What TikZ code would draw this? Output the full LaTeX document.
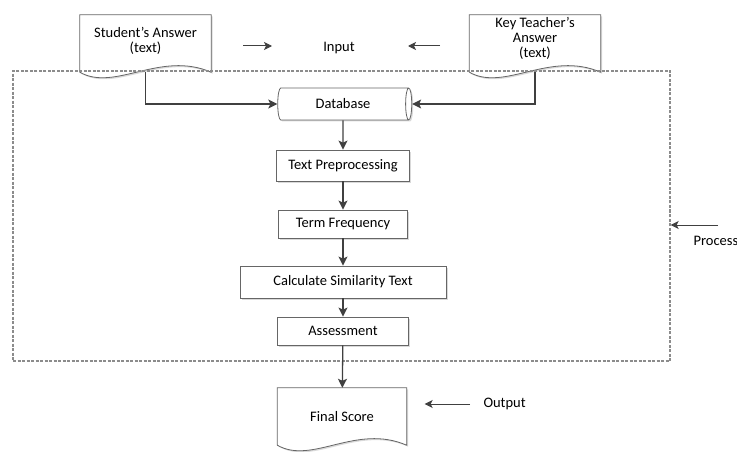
\documentclass[tikz,border=0pt]{standalone}
\usepackage{fontspec}
\setmainfont{Carlito}
\usetikzlibrary{shapes.geometric, shadows, arrows.meta}

% outline of a document shape round a plain node
\newcommand{\docoutline}[1]{%
  \draw[docline] (#1.south west) -- (#1.north west) -- (#1.north east) -- (#1.south east)
    .. controls +(-51pt,22pt) and +(35pt,-20pt) .. (#1.south west) -- cycle;}

\begin{document}
\begin{tikzpicture}[x=1pt, y=1pt,
  every node/.style={font=\fontsize{14.5}{15}\selectfont, text=black},
  boxshadow/.style={drop shadow={shadow xshift=1.5pt, shadow yshift=-1.5pt, opacity=0.3}},
  procbox/.style={draw=black!60, fill=white, line width=0.8pt, boxshadow, inner sep=0pt, align=center},
  docbox/.style={minimum width=131pt, minimum height=57pt, inner sep=0pt, align=center},
  docline/.style={draw=black!60, fill=white, line width=0.8pt, boxshadow},
  dbcyl/.style={cylinder, shape border rotate=0, aspect=0.6, draw=black!60, fill=white,
    line width=0.8pt, boxshadow, minimum width=32pt, minimum height=134pt, inner sep=0pt},
  frame/.style={draw=black!45, dash pattern=on 3pt off 1.5pt, line width=1.4pt,
    minimum width=657pt, minimum height=290pt, inner sep=0pt},
  flow/.style={draw=black!75, line width=1.3pt, -{Stealth[length=9pt, width=9pt, inset=2pt]}},
  hint/.style={draw=black!75, line width=1pt, -{Stealth[length=8pt, width=8pt, inset=2pt]}}]
\useasboundingbox (0,0) rectangle (737,-452);

% documents
\path
    (145.5,-43.5) node[docbox] (stu) {}
    (535,-43.5)   node[docbox] (tea) {}
    (342,-416.5)  node[docbox, minimum width=129pt] (fin) {};
\docoutline{stu}
\docoutline{tea}
\docoutline{fin}
\path
    (stu) node[align=center, yshift=3pt] {Student's Answer\\(text)}
    (tea) node[align=center, yshift=5pt] {Key Teacher's\\Answer\\(text)}
    (fin) node {Final Score};

% process steps
\draw
    (343,-104)   node[dbcyl]                                          (db)  {Database}
    (343,-165.5) node[procbox, minimum width=133pt, minimum height=31pt] (pre) {Text Preprocessing}
    (343,-224)   node[procbox, minimum width=129pt, minimum height=28pt] (tf)  {Term Frequency}
    (343,-282)   node[procbox, minimum width=206pt, minimum height=32pt] (sim) {Calculate Similarity Text}
    (343,-331)   node[procbox, minimum width=131pt, minimum height=28pt] (asm) {Assessment};

\node[frame] (frm) at (341.5,-216) {};

% labels
\node (inp) at (339,-48) {Input};
\node[anchor=west] (prc) at (690,-241) {Process};
\node[anchor=west] (out) at (480,-404) {Output};
\coordinate (inL) at (243,-46);
\coordinate (inLt) at (272,-46);
\coordinate (inR) at (440,-46);
\coordinate (inRt) at (408,-46);
\coordinate (prcA) at (718,-225);

\draw[flow] (stu.south) |- (db.west);
\draw[flow] (tea.south) |- (db.east);
\draw[flow] (db) -- (pre);
\draw[flow] (pre) -- (tf);
\draw[flow] (tf) -- (sim);
\draw[flow] (sim) -- (asm);
\draw[flow] (asm) -- (fin);
\draw[hint] (inL) -- (inLt);
\draw[hint] (inR) -- (inRt);
\draw[hint] (prcA) -- (prcA -| frm.east);
\draw[hint, shorten <=10pt, shorten >=18pt] (out.west) -- (out.west -| fin.east);
\end{tikzpicture}
\end{document}
